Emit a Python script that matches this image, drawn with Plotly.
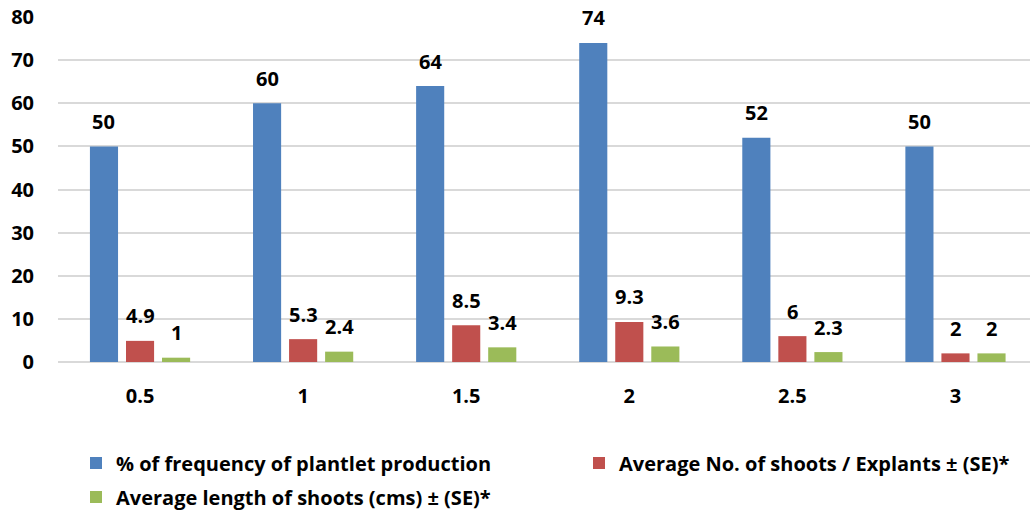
import plotly.graph_objects as go

categories = ["0.5", "1", "1.5", "2", "2.5", "3"]
freq = [50, 60, 64, 74, 52, 50]
shoots = [4.9, 5.3, 8.5, 9.3, 6, 2]
length = [1, 2.4, 3.4, 3.6, 2.3, 2]
labels_freq = ["50", "60", "64", "74", "52", "50"]
labels_shoots = ["4.9", "5.3", "8.5", "9.3", "6", "2"]
labels_length = ["1", "2.4", "3.4", "3.6", "2.3", "2"]
series_names = ["% of frequency of plantlet production",
                "Average No. of shoots / Explants ± (SE)*",
                "Average length of shoots (cms) ± (SE)*"]
colors = ["#4F81BD", "#C0504D", "#9BBB59"]
y_ticks = [0, 10, 20, 30, 40, 50, 60, 70, 80]

FONT = "Open Sans"
FS = 20
BARGAP = 0.337
GROUPGAP = 0.22
W, H = 1030, 512

xs = list(range(len(categories)))
series = [(freq, labels_freq), (shoots, labels_shoots), (length, labels_length)]
legends = ["legend", "legend2", "legend3"]
# legend item origins (pixels from top-left)
leg_pos = [(76, 463), (579, 463), (76, 497)]

fig = go.Figure()
for (vals, _), name, col, lg in zip(series, series_names, colors, legends):
    fig.add_trace(go.Bar(x=xs, y=vals, name=name, marker_color=col,
                         marker_line_width=0, hoverinfo="skip", legend=lg))

slot = (1 - BARGAP) / 3
annotations = []
for si, (vals, labs) in enumerate(series):
    for xi, (v, t) in enumerate(zip(vals, labs)):
        annotations.append(dict(x=xi + (si - 1) * slot, y=v, text=t,
                                showarrow=False, yanchor="middle", xanchor="center",
                                yshift=25, font=dict(family=FONT, size=FS, color="#000",
                                                     weight="bold")))

legfont = dict(family=FONT, size=FS, color="#000", weight="bold")
leg_layout = {}
for lg, (px, py) in zip(legends, leg_pos):
    leg_layout[lg] = dict(orientation="h", x=px / W, xref="container", y=1 - py / H,
                          yref="container", yanchor="middle", xanchor="left",
                          font=legfont, itemclick=False, itemdoubleclick=False,
                          bgcolor="rgba(0,0,0,0)")

fig.update_layout(
    width=W, height=H,
    margin=dict(l=58, r=0, t=17, b=150),
    plot_bgcolor="white", paper_bgcolor="white",
    barmode="group", bargap=BARGAP, bargroupgap=GROUPGAP,
    font=dict(family=FONT, size=FS, color="#000"),
    showlegend=True,
    annotations=annotations,
    **leg_layout,
)
fig.update_xaxes(range=[-0.503, 5.457], tickvals=xs, ticktext=categories,
                 showgrid=False, zeroline=False, showline=False, ticks="",
                 ticklabelstandoff=20, tickfont=dict(family=FONT, size=FS, color="#000", weight="bold"))
fig.update_yaxes(range=[0, 80], tickvals=y_ticks, ticktext=[str(t) for t in y_ticks],
                 showgrid=True, gridcolor="#D9D9D9", gridwidth=1.5, zeroline=True,
                 zerolinecolor="#D9D9D9", zerolinewidth=1.5, showline=False, ticks="",
                 ticklabelstandoff=23, tickfont=dict(family=FONT, size=FS, color="#000", weight="bold"))

fig.write_html("out.html")
